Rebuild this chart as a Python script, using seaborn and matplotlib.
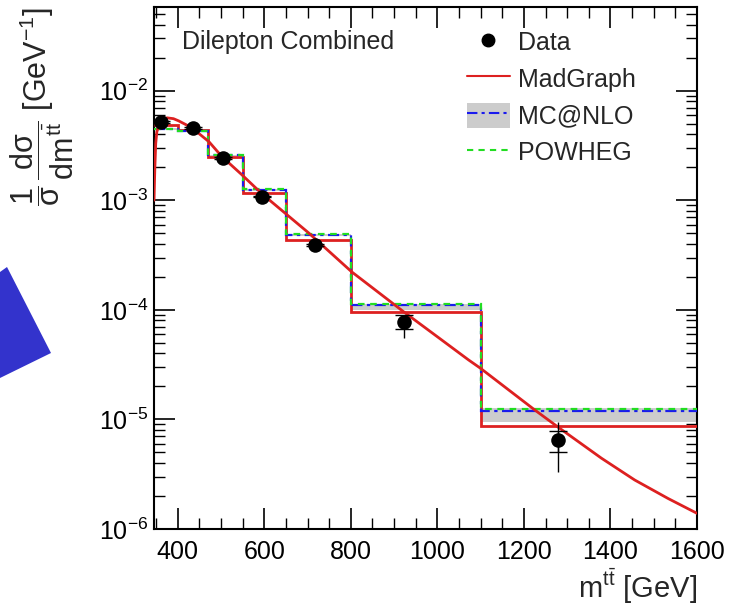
import numpy as np
import pandas as pd
import matplotlib
matplotlib.use("Agg")
import matplotlib.pyplot as plt
import seaborn as sns
from matplotlib.lines import Line2D
from matplotlib.patches import Patch, Polygon
from matplotlib.ticker import LogLocator, MultipleLocator, LogFormatterSciNotation

# ---------------- data ----------------
bin_edges = [345, 400, 470, 550, 650, 800, 1100, 1600]

data_x = [361, 435, 504, 594, 716, 922, 1279]
data_y = [5.2e-3, 4.6e-3, 2.44e-3, 1.08e-3, 3.93e-4, 7.8e-5, 6.5e-6]
data_stat_lo = [5.1e-3, 4.5e-3, 2.4e-3, 1.06e-3, 3.85e-4, 6.7e-5, 5.0e-6]
data_stat_hi = [5.3e-3, 4.7e-3, 2.48e-3, 1.10e-3, 4.0e-4, 8.9e-5, 7.85e-6]
data_tot_lo = [5.0e-3, 4.4e-3, 2.36e-3, 1.04e-3, 3.8e-4, 5.55e-5, 3.33e-6]
data_tot_hi = [5.4e-3, 4.8e-3, 2.52e-3, 1.12e-3, 4.05e-4, 9.0e-5, 9.55e-6]

madgraph_hist = [4.9e-3, 4.4e-3, 2.48e-3, 1.16e-3, 4.35e-4, 9.5e-5, 8.7e-6]
mcatnlo_hist = [4.47e-3, 4.3e-3, 2.57e-3, 1.25e-3, 4.84e-4, 1.1e-4, 1.19e-5]
mcatnlo_lo = [4.40e-3, 4.22e-3, 2.52e-3, 1.22e-3, 4.70e-4, 1.0e-4, 9.5e-6]
mcatnlo_hi = [4.52e-3, 4.36e-3, 2.60e-3, 1.27e-3, 4.90e-4, 1.13e-4, 1.26e-5]
powheg_hist = [4.5e-3, 4.32e-3, 2.58e-3, 1.26e-3, 4.9e-4, 1.12e-4, 1.25e-5]

mg_curve_x = [345, 347, 349, 351.5, 356, 361, 368, 375, 390, 402, 432, 472, 502,
              548, 594, 702, 802, 922, 1002, 1072, 1099, 1225, 1279, 1379, 1456,
              1533, 1600]
mg_curve_y = [1.0e-3, 2.0e-3, 3.3e-3, 4.2e-3, 4.8e-3, 5.2e-3, 5.5e-3, 5.65e-3,
              5.55e-3, 5.3e-3, 4.6e-3, 3.42e-3, 2.5e-3, 1.71e-3, 1.15e-3, 5.05e-4,
              2.22e-4, 9.6e-5, 5.6e-5, 3.49e-5, 2.94e-5, 1.22e-5, 8.5e-6, 4.43e-6,
              2.8e-6, 1.9e-6, 1.39e-6]

legend_labels = ["Data", "MadGraph", "MC@NLO", "POWHEG"]

# ---------------- style ----------------
sns.set_style("ticks")
plt.rcParams["font.family"] = ["Liberation Sans", "DejaVu Sans"]
plt.rcParams["mathtext.fontset"] = "custom"
plt.rcParams["mathtext.rm"] = "Liberation Sans"
plt.rcParams["mathtext.it"] = "Liberation Sans"
plt.rcParams["mathtext.bf"] = "Liberation Sans:bold"
plt.rcParams["mathtext.sf"] = "Liberation Sans"

RED = "#dd2020"
BLUE = "#1a1aee"
GREEN = "#22dd22"
GREY = "#cccccc"
FS = 18
LFS = 22

W, H = 737, 605
fig = plt.figure(figsize=(W / 100, H / 100), dpi=100)
ax = fig.add_axes([154 / W, 1 - 529 / H, (697 - 154) / W, (529 - 7) / H])

# grey MC@NLO band
ax.stairs(mcatnlo_hi, bin_edges, baseline=mcatnlo_lo, fill=True, color=GREY, lw=0, zorder=1)
# histograms
ax.stairs(madgraph_hist, bin_edges, color=RED, lw=2.0, zorder=3, baseline=None)
ax.stairs(mcatnlo_hist, bin_edges, color=BLUE, lw=1.6, ls=(0, (5, 2, 1.5, 2)), zorder=4, baseline=None)
ax.stairs(powheg_hist, bin_edges, color=GREEN, lw=1.6, ls=(0, (3, 2.5)), zorder=4, baseline=None)

# MadGraph smooth curve
curve_df = pd.DataFrame({"x": mg_curve_x, "y": mg_curve_y})
sns.lineplot(data=curve_df, x="x", y="y", ax=ax, color=RED, lw=2.0, zorder=5,
             sort=False, estimator=None)

# data error bars
dx = np.array(data_x)
dy = np.array(data_y)
ax.errorbar(dx, dy, yerr=[dy - np.array(data_tot_lo), np.array(data_tot_hi) - dy],
            fmt="none", ecolor="black", elinewidth=1.0, capsize=0, zorder=6)
ax.errorbar(dx, dy, yerr=[dy - np.array(data_stat_lo), np.array(data_stat_hi) - dy],
            fmt="none", ecolor="black", elinewidth=1.0, capsize=6.5, capthick=1.0, zorder=6)
sns.scatterplot(x=data_x, y=data_y, ax=ax, color="black", s=110, edgecolor="black",
                linewidth=0, zorder=7)

ax.set_yscale("log")
ax.set_xlim(345, 1600)
ax.set_ylim(1e-6, 0.058)
ax.set_xlabel("")
ax.set_ylabel("")

ax.xaxis.set_major_locator(MultipleLocator(200))
ax.xaxis.set_minor_locator(MultipleLocator(50))
ax.yaxis.set_major_locator(LogLocator(base=10, numticks=10))
ax.yaxis.set_minor_locator(LogLocator(base=10, subs=np.arange(2, 10), numticks=20))
ax.yaxis.set_major_formatter(LogFormatterSciNotation())
ax.tick_params(which="both", direction="in", top=True, right=True, labelsize=FS, colors="black")
ax.tick_params(which="major", length=15, width=1.2)
ax.tick_params(which="minor", length=8, width=1.0)
ax.tick_params(axis="x", pad=8)
ax.tick_params(axis="y", pad=4)
for sp in ax.spines.values():
    sp.set_linewidth(1.5)
    sp.set_color("black")

fig.text(182 / W, 1 - 42 / H, "Dilepton Combined", fontsize=FS, ha="left", va="center")

# legend
handles = [
    Line2D([], [], ls="none", marker="o", color="black", markersize=9),
    Line2D([], [], color=RED, lw=1.5),
    (Patch(facecolor=GREY, edgecolor="none"), Line2D([], [], color=BLUE, lw=1.5, ls=(0, (5, 2, 1.5, 2)))),
    Line2D([], [], color=GREEN, lw=1.5, ls=(0, (3, 2.5))),
]
fig.legend(handles, legend_labels, loc="upper left", bbox_to_anchor=(467 / W, 1 - 29 / H),
           bbox_transform=fig.transFigure, frameon=False, fontsize=FS, handlelength=1.7,
           handleheight=1.2, handletextpad=0.36, labelspacing=0.42, borderpad=0, borderaxespad=0)

# axis labels
fig.text(42 / W, 1 - 106 / H,
         r"$\dfrac{1}{\sigma}\,\dfrac{d\sigma}{dm^{t\bar{t}}}$ [GeV$^{-1}$]",
         rotation=90, fontsize=LFS, ha="center", va="center")
fig.text(697 / W, 1 - 586 / H, r"m$^{t\bar{t}}$ [GeV]", fontsize=21, ha="right", va="center")

# decorative blue shape at left
poly_px = [(0, 272), (7, 267), (51, 353), (0, 378)]
poly = Polygon([(px / W, 1 - py / H) for px, py in poly_px], closed=True,
               transform=fig.transFigure, facecolor="#3333cc", edgecolor="none")
fig.patches.append(poly)

fig.savefig("out.png", dpi=100)
